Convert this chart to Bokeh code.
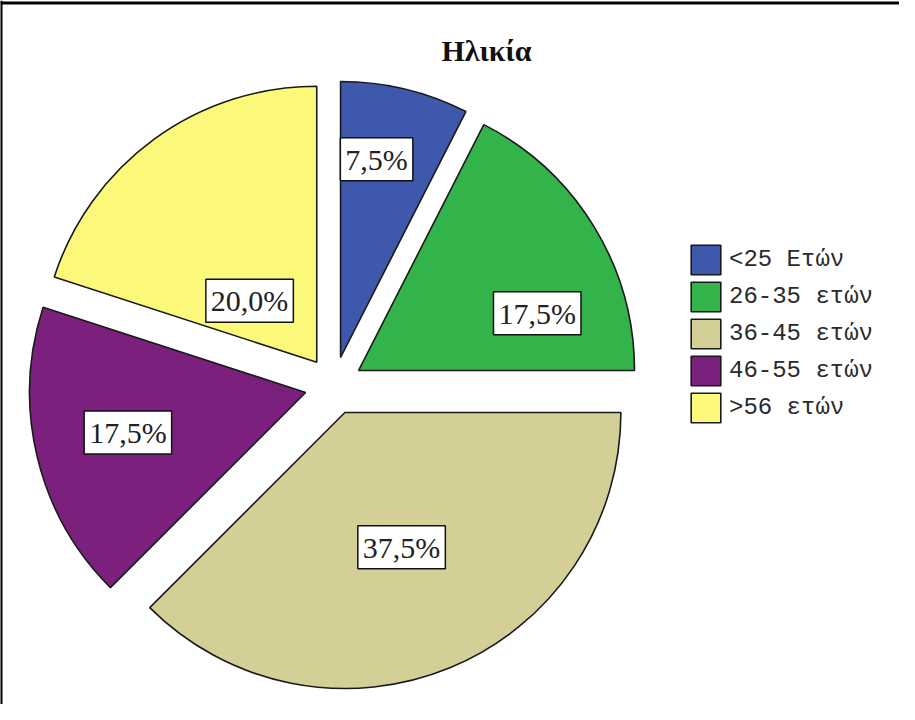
import math
from bokeh.plotting import figure
from bokeh.models import ColumnDataSource, Range1d, Span, Label, Legend, LegendItem
from bokeh.core.properties import value
from bokeh.embed import file_html
from bokeh.resources import INLINE

# ---- data ----
title_text = "Ηλικία"
categories = ["<25 Ετών", "26-35 ετών", "36-45 ετών", "46-55 ετών", ">56 ετών"]
percent = [7.5, 17.5, 37.5, 17.5, 20.0]
percent_labels = ["7,5%", "17,5%", "37,5%", "17,5%", "20,0%"]
colors = ["#3E58AC", "#32B44A", "#D4CE97", "#7B217D", "#FBF87A"]

# ---- layout / style ----
W, H = 899, 704
CX, CY = 333.3, 318.8      # pie centre (pixel-scaled data units)
R = 276                    # radius
EXPLODE = 29               # explode distance of each slice
label_frac = [0.73, 0.68, 0.53, 0.66, 0.33]     # label distance (fraction of R)
label_ang = [10.3, 72.2, 157.2, 257.3, 312.5]   # label direction, deg clockwise from top

total = sum(percent)
xs, ys, starts, ends, lxs, lys = [], [], [], [], [], []
cum = 0.0
for i, v in enumerate(percent):
    t1 = cum / total * 360.0
    cum += v
    t2 = cum / total * 360.0
    bis = math.radians((t1 + t2) / 2)
    x = CX + EXPLODE * math.sin(bis)
    y = CY + EXPLODE * math.cos(bis)
    xs.append(x)
    ys.append(y)
    starts.append(math.radians(90 - t1))
    ends.append(math.radians(90 - t2))
    a = math.radians(label_ang[i])
    lxs.append(x + label_frac[i] * R * math.sin(a))
    lys.append(y + label_frac[i] * R * math.cos(a))

src = ColumnDataSource(dict(x=xs, y=ys, start=starts, end=ends, color=colors,
                            cat=categories, lx=lxs, ly=lys, lab=percent_labels))

p = figure(width=W, height=H, output_backend="svg", toolbar_location=None,
           x_range=Range1d(0, W), y_range=Range1d(0, H), min_border=0)
p.axis.visible = False
p.grid.visible = False
p.outline_line_color = None
p.background_fill_color = "white"
p.border_fill_color = "white"

wr = p.wedge(x="x", y="y", radius=R, start_angle="start", end_angle="end",
             direction="clock", fill_color="color", line_color="#1a1a1a",
             line_width=1.6, source=src)

p.text(x="lx", y="ly", text="lab", source=src,
       text_font=value("Liberation Serif"), text_font_size="30px",
       text_align="center", text_baseline="middle", text_color="#222222",
       background_fill_color="white", border_line_color="#111111",
       border_line_width=1.5, padding=5)

# title
p.add_layout(Label(x=486, y=654, text=title_text, text_font="Liberation Serif",
                   text_font_style="bold", text_font_size="30px",
                   text_align="center", text_baseline="alphabetic",
                   text_color="#111111"))

# frame (top and left edges visible)
p.add_layout(Span(location=0.5, dimension="height", line_color="black", line_width=3))
p.add_layout(Span(location=701.5, dimension="width", line_color="black", line_width=3))

legend = Legend(items=[LegendItem(label=categories[i], renderers=[wr], index=i)
                       for i in range(len(categories))],
                location=(687, 278), glyph_width=37, glyph_height=37,
                label_standoff=5, spacing=0, padding=0, margin=0,
                border_line_color=None, background_fill_alpha=0,
                label_text_font="Liberation Mono", label_text_font_size="24px",
                label_height=37, label_text_baseline="middle",
                label_text_color="#2a2a2a")
p.add_layout(legend)

open("out.html", "w").write(file_html(p, INLINE))
